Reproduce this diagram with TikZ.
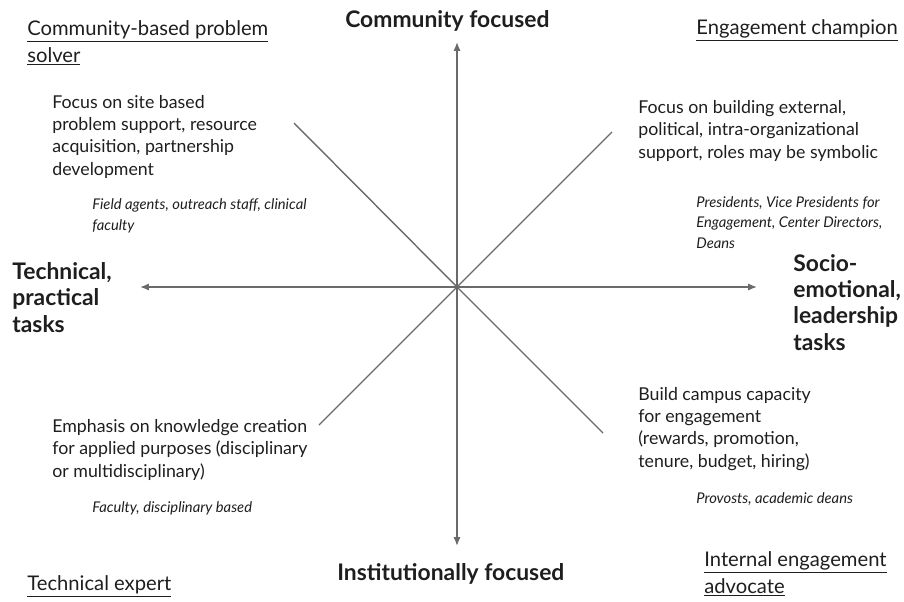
\documentclass[tikz,border=0pt]{standalone}
\usepackage{fontspec}
\setmainfont{Lato}
\usetikzlibrary{arrows.meta}
\definecolor{inkgray}{HTML}{1E1E1E}
\definecolor{linegray}{HTML}{6A6A6A}
\tikzset{
	role/.style={anchor=base west, inner sep=0pt, align=left, text=inkgray, font=\fontsize{11.5}{15.3}\selectfont},
	duty/.style={anchor=base west, inner sep=0pt, align=left, text=inkgray, font=\fontsize{10.1}{12.6}\selectfont},
	who/.style={anchor=base west, inner sep=0pt, align=left, text=inkgray, font=\itshape\fontsize{8.4}{11.6}\selectfont},
	pole/.style={anchor=base west, inner sep=0pt, align=left, text=inkgray, font=\bfseries\fontsize{13}{14.9}\selectfont},
	axis/.style={draw=linegray, line width=0.8pt, {Latex[length=5pt,width=4pt]}-{Latex[length=5pt,width=4pt]}},
	diag/.style={draw=linegray, line width=0.8pt}
}
\begin{document}
\begin{tikzpicture}[x=0.02cm, y=-0.02cm]
	\useasboundingbox (0,0) rectangle (904,602);
	% axes
	\coordinate (origin) at (457,287);
	\coordinate (up) at (457,42);
	\coordinate (down) at (457,546);
	\coordinate (left) at (140,287);
	\coordinate (right) at (757,287);
	\coordinate (nw) at (294,123);
	\coordinate (se) at (603,433);
	\coordinate (ne) at (612,132);
	\coordinate (sw) at (319,425);
	\draw[axis] (down) -- (up);
	\draw[axis] (left) -- (right);
	\draw[diag] (nw) -- (origin) -- (se);
	\draw[diag] (ne) -- (origin) -- (sw);
	% poles (base = last line)
	\node[pole] (community) at (345,27) {Community focused};
	\node[pole] (institution) at (337,580) {Institutionally focused};
	\node[pole] (technical) at (12,332) {Technical,\\practical\\tasks};
	\node[pole] (socio) at (793,350) {Socio-\\emotional,\\leadership\\tasks};
	% quadrants
	\node[role] (solver) at (27,62) {\underline{Community-based problem}\\\underline{solver}};
	\node[duty] (solverduty) at (52,175) {Focus on site based\\problem support, resource\\acquisition, partnership\\development};
	\node[who] (solverwho) at (92,230) {Field agents, outreach staff, clinical\\faculty};
	\node[role] (champion) at (696,34) {\underline{Engagement champion}};
	\node[duty] (championduty) at (638,158) {Focus on building external,\\political, intra-organizational\\support, roles may be symbolic};
	\node[who] (championwho) at (696,248) {Presidents, Vice Presidents for\\Engagement, Center Directors,\\Deans};
	\node[duty] (expertduty) at (52,477) {Emphasis on knowledge creation\\for applied purposes (disciplinary\\or multidisciplinary)};
	\node[who] (expertwho) at (92,512) {Faculty, disciplinary based};
	\node[role] (expert) at (27,590) {\underline{Technical expert}};
	\node[duty] (advocateduty) at (638,467) {Build campus capacity\\for engagement\\(rewards, promotion,\\tenure, budget, hiring)};
	\node[who] (advocatewho) at (696,503) {Provosts, academic deans};
	\node[role] (advocate) at (704,593) {\underline{Internal engagement}\\\underline{advocate}};
\end{tikzpicture}
\end{document}
